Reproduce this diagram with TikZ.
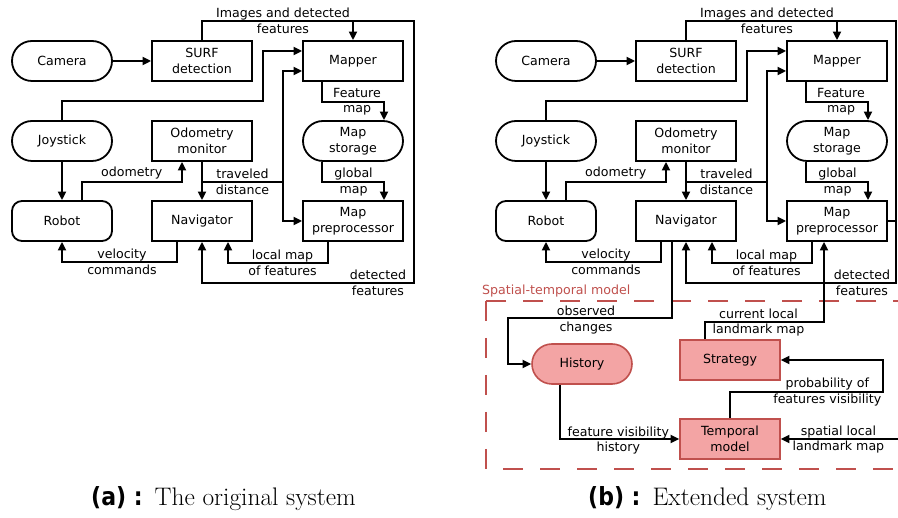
\documentclass[tikz,border=0pt]{standalone}
\usepackage{fontspec}
\usetikzlibrary{arrows.meta}
\newfontfamily\diagfont{DejaVu Sans}
\newfontfamily\capsans{DejaVu Sans}[FakeStretch=0.88]
\definecolor{stred}{RGB}{192,80,77}
\definecolor{stpink}{RGB}{243,164,164}

\tikzset{
  box/.style={draw, line width=1.8pt, minimum width=100pt, minimum height=40pt,
    align=center, inner sep=0pt},
  stadium/.style={box, rounded corners=20pt},
  softbox/.style={box, rounded corners=10pt},
  pinkbox/.style={box, draw=stred, fill=stpink, line width=1.6pt},
  wire/.style={line width=1.8pt},
  flow/.style={wire, -{Triangle[length=8.5pt,width=8pt]}},
  lbl/.style={align=center, inner sep=0pt},
  stdash/.style={draw=stred, line width=1.6pt, dash pattern=on 20pt off 17pt},
}

% Common part of the navigation system: #1 name prefix, #2 horizontal offset,
% #3 x of the outer return line (local coordinates)
\newcommand\basesystem[3]{%
\begin{scope}[xshift=#2pt]
  \node[stadium] (#1cam)   at (62,61)   {Camera};
  \node[box]     (#1surf)  at (202,61)  {SURF\\detection};
  \node[box]     (#1map)   at (353,61)  {Mapper};
  \node[stadium] (#1joy)   at (62,141)  {Joystick};
  \node[box]     (#1odo)   at (202,141) {Odometry\\monitor};
  \node[stadium] (#1store) at (353,141) {Map\\storage};
  \node[softbox] (#1robot) at (62,221)  {Robot};
  \node[box]     (#1nav)   at (202,221) {Navigator};
  \node[box]     (#1prep)  at (353,221) {Map\\preprocessor};

  \coordinate (#1tr) at (#3,21);
  \coordinate (#1br) at (#3,283);
  \coordinate (#1jk) at (263,101);
  \coordinate (#1oj) at (182,182);
  \coordinate (#1tj) at (283,182);
  \coordinate (#1fm) at (384,102);
  \coordinate (#1gm) at (384,182);
  \coordinate (#1vc) at (62,262);
  \coordinate (#1lm) at (228,263);

  % camera images and detected features
  \draw[flow] (#1cam) -- (#1surf);
  \draw[flow] (#1surf.north) |- (#1tr) -- (#1br) -| (#1nav.south);
  \draw[flow] (#1map.north |- #1tr) -- (#1map.north);
  % joystick
  \draw[flow] (#1joy.north) |- (#1jk) |- ([yshift=10pt]#1map.west);
  \draw[flow] (#1joy) -- (#1robot);
  % odometry and traveled distance
  \draw[flow] ([xshift=20pt]#1robot.north) |- (#1oj) -- (#1oj |- #1odo.south);
  \draw[flow] (#1odo) -- (#1nav);
  \draw[wire] (#1odo.south |- #1tj) -- (#1tj);
  \draw[flow] (#1tj) |- ([yshift=-10pt]#1map.west);
  \draw[flow] (#1tj) |- (#1prep.west);
  % maps
  \draw[flow] ([xshift=-31pt]#1map.south) |- (#1fm) -- (#1fm |- #1store.north);
  \draw[flow] ([xshift=-31pt]#1store.south) |- (#1gm) -- (#1gm |- #1prep.north);
  \draw[flow] ([xshift=-25pt]#1prep.south) |- (#1lm) -- (#1lm |- #1nav.south);
  % velocity commands
  \draw[flow] ([xshift=-25pt]#1nav.south) |- (#1vc) -- (#1robot.south);

  \node[lbl] (#1l1) at (283,20.7)    {Images and detected\\features};
  \node[lbl] (#1l2) at (357,101.7)   {Feature\\map};
  \node[lbl] (#1l3) at (131.7,173.5) {odometry};
  \node[lbl] (#1l4) at (242.5,181.7) {traveled\\distance};
  \node[lbl] (#1l5) at (353.5,181.7) {global\\map};
  \node[lbl] (#1l6) at (122,262)     {velocity\\commands};
  \node[lbl] (#1l7) at (282.5,262.5) {local map\\of features};
  \node[lbl] (#1l8) at (378,282.7)   {detected\\features};
\end{scope}}

\begin{document}
\begin{tikzpicture}[x=1pt, y=-1pt,
  every node/.style={font={\diagfont\fontsize{12.6}{15.8}\selectfont}, text=black}]
  \useasboundingbox (0,0) rectangle (898,518);
  \fill[white] (0,0) rectangle (898,518);
  \clip (0,0) rectangle (898,518);

  \basesystem{a}{0}{414}
  \basesystem{b}{484}{412}

  % spatial-temporal extension
  \draw[stdash] (486,301) rectangle (920,469);
  \node[lbl, text=stred, anchor=west] (stlabel) at (482,290.7) {Spatial-temporal model};

  \node[pinkbox, rounded corners=20pt] (hist) at (582,364) {History};
  \node[pinkbox] (strat) at (730,360) {Strategy};
  \node[pinkbox] (temp)  at (730,439) {Temporal\\model};

  \coordinate (ocj) at (508,318);
  \coordinate (clj) at (824,322);
  \coordinate (pvj) at (883,392);
  \coordinate (slj) at (898,439);

  \draw[flow] ([xshift=-14pt]bnav.south) |- (ocj) |- (hist.west);
  \draw[flow] ([xshift=-25pt]strat.north) |- (clj) -- (clj |- bprep.south);
  \draw[flow] ([xshift=-22pt]hist.south) |- (temp.west);
  \draw[flow] (temp.north) |- (pvj) |- (strat.east);
  \draw[flow] (slj) -- (temp.east);
  \draw[wire] (bprep.east) -- (bprep.east -| btr);

  \node[lbl] (ocl) at (586,320)     {observed\\changes};
  \node[lbl] (cll) at (758.5,322.5) {current local\\landmark map};
  \node[lbl] (fvl) at (618.3,440.5) {feature visibility\\history};
  \node[lbl] (pvl) at (827.3,392)   {probability of\\features visibility};
  \node[lbl] (sll) at (838.4,439.5) {spatial local\\landmark map};

  % sub-captions
  \node[anchor=base west, inner sep=0pt, font={}] (capa) at (91,506)
    {{\capsans\bfseries\fontsize{25}{30}\selectfont (a) :}\hspace{12pt}%
     {\rmfamily\fontsize{25.4}{30}\selectfont The original system}};
  \node[anchor=base west, inner sep=0pt, font={}] (capb) at (588,506)
    {{\capsans\bfseries\fontsize{25}{30}\selectfont (b) :}\hspace{12pt}%
     {\rmfamily\fontsize{25.4}{30}\selectfont Extended system}};
\end{tikzpicture}
\end{document}
